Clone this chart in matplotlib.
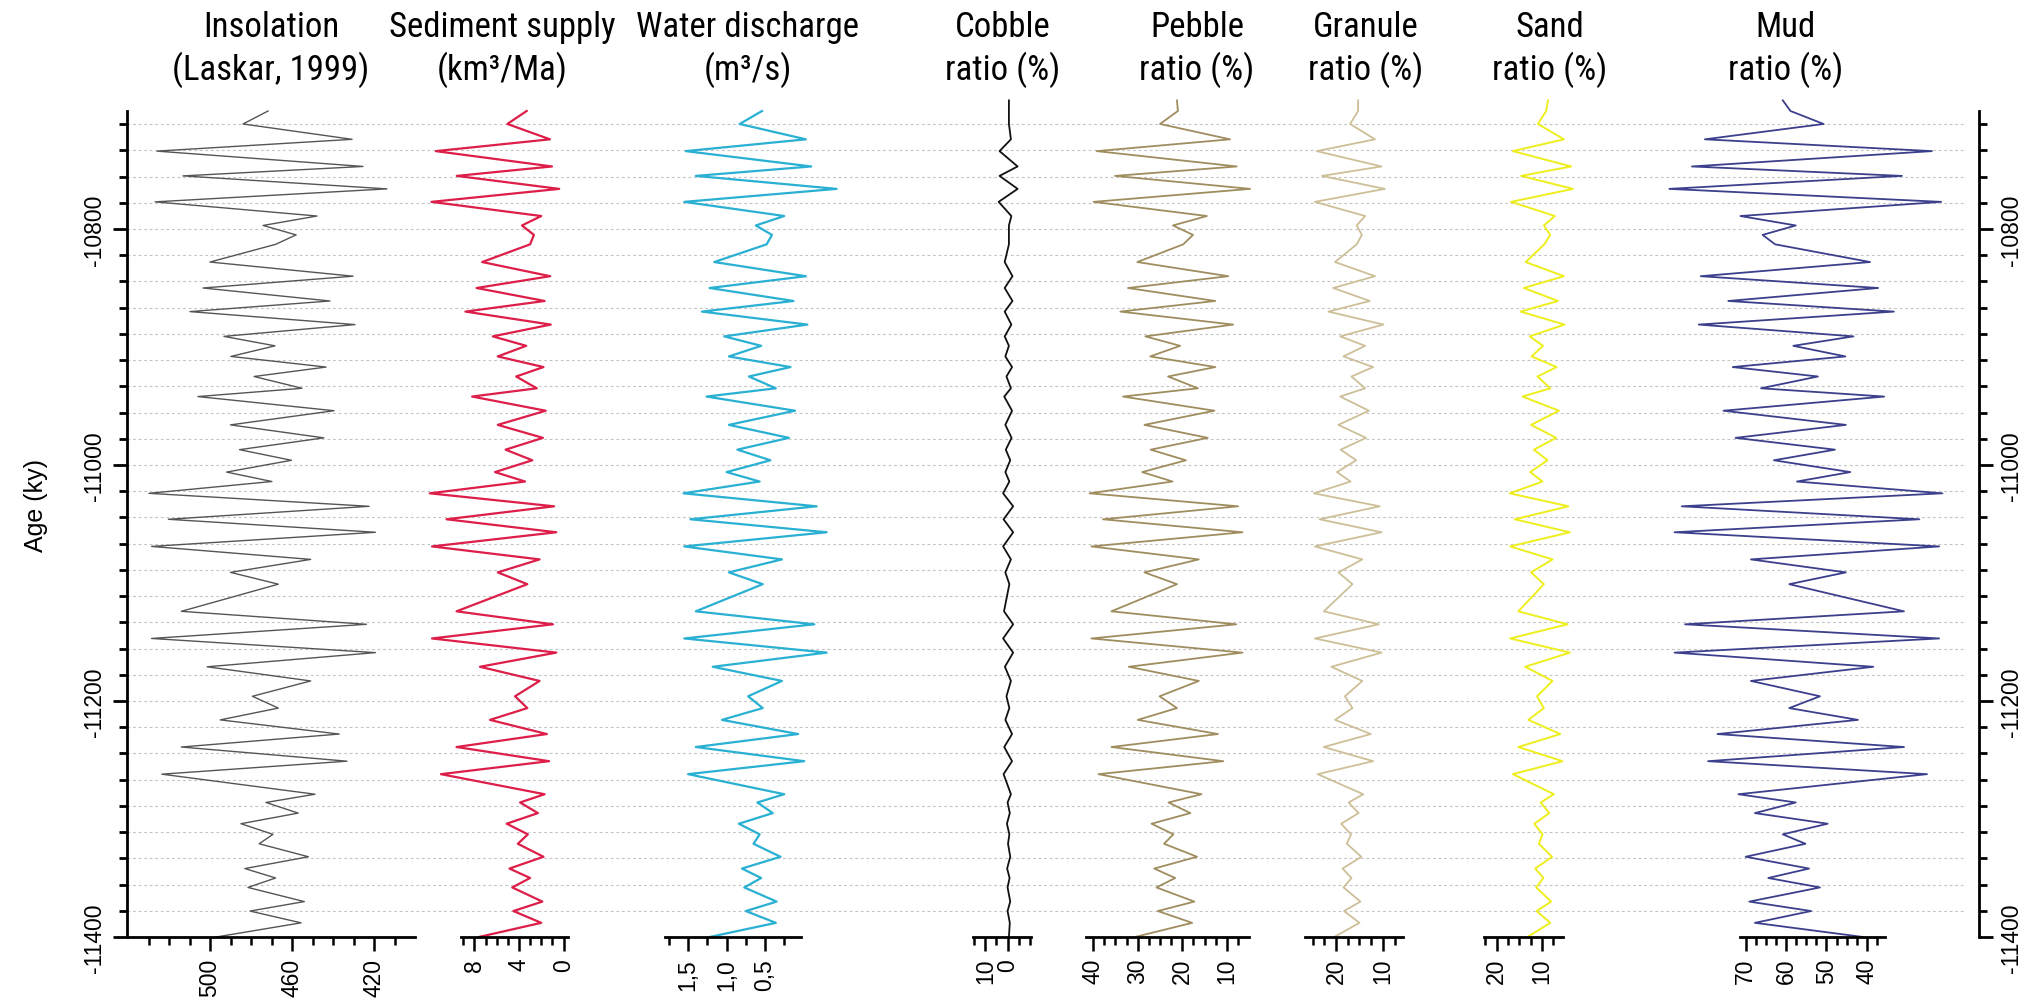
import numpy as np
import matplotlib
matplotlib.use("Agg")
import matplotlib.pyplot as plt
from matplotlib import font_manager
from matplotlib.ticker import FixedLocator, FixedFormatter

plt.rcParams['font.family'] = ['Liberation Sans', 'DejaVu Sans']
plt.rcParams['axes.unicode_minus'] = False
_names = {f.name for f in font_manager.fontManager.ttflist}
TITLE_FONT, TITLE_SIZE = ['Liberation Sans', 'DejaVu Sans'], 22
for _cand in ('Liberation Sans Narrow', 'Roboto Condensed', 'Arial Narrow',
              'Nimbus Sans Narrow'):
    if _cand in _names:
        TITLE_FONT, TITLE_SIZE = [_cand, 'Liberation Sans', 'DejaVu Sans'], 25
        break

nan = float('nan')
# ---------------- data ----------------
ages = [-10691, -10700, -10711, -10724, -10734, -10747, -10755, -10766, -10777, -10789,
        -10797, -10805, -10813, -10828, -10840, -10850, -10861, -10870, -10881, -10891,
        -10899, -10908, -10917, -10925, -10935, -10942, -10954, -10966, -10977, -10987,
        -10996, -11006, -11014, -11024, -11035, -11046, -11057, -11069, -11080, -11091,
        -11101, -11124, -11135, -11147, -11159, -11171, -11183, -11196, -11206, -11216,
        -11228, -11239, -11251, -11262, -11279, -11286, -11295, -11304, -11313, -11321,
        -11332, -11342, -11350, -11358, -11370, -11378, -11388, -11400]

insolation = [nan, 471.7, 483.9, 430.7, 525.9, 425.4, 513.2, 413.7, 526.8, 447.8,
              474.1, 458.0, 468.0, 500.0, 430.2, 503.4, 441.5, 509.8, 429.3, 493.2,
              468.3, 489.8, 443.4, 478.5, 455.1, 505.9, 439.5, 490.0, 444.5, 485.6,
              460.3, 491.9, 469.8, 529.8, 422.4, 520.3, 419.3, 528.5, 450.9, 490.0,
              466.7, 514.0, 423.7, 528.5, 419.3, 501.4, 450.9, 479.3, 466.7, 495.0,
              437.0, 514.0, 433.2, 523.5, 448.8, 472.7, 457.0, 484.9, 469.3, 476.0,
              452.0, 483.0, 468.0, 481.5, 454.0, 480.5, 455.6, 497.0]

sediment = [nan, 3.31, 5.04, 1.22, 11.46, 1.04, 9.58, 0.39, 11.85, 2.0,
            3.73, 2.66, 3.0, 7.3, 1.2, 7.8, 1.7, 8.8, 1.15, 6.35,
            3.35, 5.9, 1.8, 4.25, 2.4, 8.2, 1.6, 5.9, 1.85, 5.2,
            2.8, 6.15, 3.45, 12.0, 0.85, 10.5, 0.65, 11.8, 2.15, 5.9,
            3.25, 9.6, 0.95, 11.8, 0.65, 7.5, 2.15, 4.35, 3.25, 6.6,
            1.5, 9.6, 1.3, 11.0, 1.7, 3.9, 2.3, 5.1, 3.2, 4.1,
            1.8, 4.85, 3.0, 4.6, 1.9, 4.5, 2.0, 7.6]

water = [nan, 0.54, 0.83, -0.03, 1.53, -0.10, 1.40, -0.43, 1.55, 0.25,
         0.62, 0.41, 0.48, 1.16, -0.03, 1.22, 0.13, 1.32, -0.05, 1.03,
         0.55, 0.97, 0.17, 0.71, 0.36, 1.26, 0.11, 0.97, 0.19, 0.86,
         0.43, 1.00, 0.57, 1.56, -0.17, 1.47, -0.30, 1.55, 0.28, 0.97,
         0.53, 1.40, -0.14, 1.55, -0.30, 1.18, 0.28, 0.72, 0.53, 1.06,
         0.07, 1.40, -0.01, 1.50, 0.25, 0.60, 0.40, 0.84, 0.57, 0.65,
         0.30, 0.80, 0.55, 0.77, 0.35, 0.75, 0.36, 1.22]

cobble = [-0.6, -0.6, -0.6, -1.5, 3.6, -4.5, 3.6, -4.5, 4.0, -1.7,
          -0.6, -0.6, -0.6, 1.3, -2.2, 1.3, -2.2, 1.3, -1.7, 1.3,
          -0.6, 1.0, -2.0, 0.5, -1.5, 1.5, -2.0, 1.0, -1.8, 0.8,
          -1.2, 1.0, -0.8, 2.0, -2.5, 1.8, -2.5, 2.0, -1.5, 1.0,
          -0.8, 1.6, -2.5, 2.0, -2.5, 1.2, -1.5, 0.5, -0.8, 1.0,
          -2.0, 1.5, -2.0, 1.8, -1.5, 0.0, -1.0, 0.3, -0.8, -0.2,
          -1.2, 0.2, -0.9, 0.0, -1.2, 0.0, -1.0, -0.6]

pebble = [21.2, 21.0, 25.0, 9.3, 39.2, 7.8, 35.1, 4.8, 39.9, 14.5,
          22.1, 17.6, 19.8, 30.1, 9.7, 32.2, 12.6, 33.9, 8.6, 28.3,
          20.5, 27.2, 12.6, 23.2, 16.5, 33.3, 12.8, 28.5, 14.3, 27.1,
          19.2, 29.0, 22.2, 40.8, 7.5, 37.8, 6.5, 40.4, 16.3, 28.5,
          21.2, 35.9, 7.9, 40.4, 6.5, 32.0, 16.3, 25.1, 21.2, 30.0,
          12.0, 35.9, 10.8, 38.8, 15.7, 23.1, 18.2, 26.9, 22.0, 24.1,
          16.7, 26.3, 21.6, 25.8, 17.3, 25.5, 17.8, 30.6]

granule = [15.3, 15.3, 17.0, 11.7, 24.1, 10.3, 23.0, 9.6, 24.5, 13.8,
           15.6, 14.5, 15.6, 20.2, 11.7, 20.6, 12.8, 21.6, 9.9, 19.1,
           13.8, 18.4, 12.1, 16.7, 13.8, 19.1, 13.0, 19.5, 13.6, 19.0,
           15.7, 19.8, 16.9, 24.7, 10.7, 23.5, 10.3, 24.5, 14.4, 19.5,
           16.5, 22.6, 10.9, 24.5, 10.3, 21.0, 14.4, 18.1, 16.5, 20.2,
           12.6, 22.6, 12.1, 23.9, 14.2, 17.3, 15.2, 18.9, 16.8, 17.7,
           14.6, 18.6, 16.7, 18.4, 14.8, 18.3, 15.0, 20.4]

sand = [8.7, 9.1, 10.9, 5.2, 16.4, 3.6, 14.6, 3.2, 16.8, 7.2,
        9.6, 8.2, 9.5, 13.6, 5.2, 14.0, 6.5, 14.7, 5.1, 12.7,
        9.8, 12.3, 6.8, 11.0, 8.2, 14.3, 6.3, 12.4, 6.9, 11.8,
        8.8, 12.6, 9.9, 17.1, 4.2, 16.0, 3.9, 17.0, 7.7, 12.4,
        9.6, 15.2, 4.4, 17.0, 3.9, 13.7, 7.7, 11.1, 9.6, 13.0,
        6.0, 15.2, 5.5, 16.4, 7.4, 10.3, 8.4, 11.7, 9.9, 10.7,
        7.8, 11.5, 9.7, 11.3, 8.0, 11.2, 8.2, 13.2]

mud = [60.8, 58.9, 50.7, 80.1, 23.9, 83.3, 31.3, 88.9, 21.6, 71.3,
       57.6, 65.8, 62.7, 39.2, 81.1, 37.2, 74.3, 33.3, 81.6, 43.3,
       58.2, 45.3, 73.2, 52.1, 66.2, 35.7, 75.5, 45.2, 72.5, 47.9,
       63.0, 44.1, 57.3, 21.3, 85.8, 27.0, 87.6, 22.1, 68.7, 45.2,
       59.2, 30.8, 85.0, 22.1, 87.6, 38.4, 68.7, 51.6, 59.2, 42.2,
       77.0, 30.8, 79.3, 25.1, 71.8, 57.6, 67.7, 49.7, 60.8, 55.2,
       70.0, 54.3, 64.4, 51.6, 69.1, 53.8, 67.7, 40.9]

titles = [("Insolation", "(Laskar, 1999)"), ("Sediment supply", "(km³/Ma)"),
          ("Water discharge", "(m³/s)"), ("Cobble", "ratio (%)"),
          ("Pebble", "ratio (%)"), ("Granule", "ratio (%)"),
          ("Sand", "ratio (%)"), ("Mud", "ratio (%)")]

age_major = [-11400, -11200, -11000, -10800]

# ---------------- layout (pixels of the 2030x1004 canvas) ----------------
W, H = 2030, 1004
Y0, Y1 = 112, 938
fig = plt.figure(figsize=(W / 100, H / 100), dpi=100)


def box(x0, x1):
    return [x0 / W, 1 - Y1 / H, (x1 - x0) / W, (Y1 - Y0) / H]


ax0 = fig.add_axes(box(127, 1979))
ax0.set_ylim(-11400, -10700)
ax0.set_xlim(0, 1)
ax0.set_xticks([])
ax0.spines['top'].set_visible(False)
ax0.spines['bottom'].set_visible(False)
for s in ('left', 'right'):
    ax0.spines[s].set_linewidth(2.0)
minor_age = [-10800 + 200 / 9 * k for k in range(-27, 5) if k % 9 != 0]
ax0.yaxis.set_major_locator(FixedLocator(age_major))
ax0.yaxis.set_minor_locator(FixedLocator(minor_age))
ax0.tick_params(axis='y', which='both', left=True, right=True, labelleft=True,
                labelright=True, direction='out', width=2.0, labelsize=16.5,
                labelrotation=90)
ax0.tick_params(axis='y', which='major', length=10, pad=5)
ax0.tick_params(axis='y', which='minor', length=5.5)
for t in ax0.yaxis.get_major_ticks():
    t.label1.set_va('center')
    t.label2.set_va('center')
for a in minor_age + age_major:
    ax0.axhline(a, xmin=0, xmax=0.992, linestyle=(0, (2.5, 2.5)),
                color='#c4c4c4', linewidth=0.8, zorder=0)

fig.text(36 / W, 1 - 505 / H, "Age (ky)", rotation=90, ha='center',
         va='center', fontsize=18)

panels = [
    # values, colour, lw, x0, x1, xlim, minor ticks, major ticks, labels, title x
    (insolation, '#555555', 1.0, 127, 415, (540.5, 400.0),
     list(range(410, 531, 10)), [500, 460, 420], ['500', '460', '420'], 271),
    (sediment, '#dc1e48', 1.6, 461, 568, (9.2, -0.4),
     list(range(0, 10)), [8, 4, 0], ['8', '4', '0'], 502),
    (water, '#29b0d2', 1.6, 665, 801, (1.8, 0.033),
     [0.25, 0.75, 1.25, 1.75], [1.5, 1.0, 0.5], ['1,5', '1,0', '0,5'], 748),
    (cobble, '#111111', 1.3, 973, 1031, (15.5, -10.5),
     [15, 5, -5, -10], [10, 0], ['10', '0'], 1003),
    (pebble, '#a08d5f', 1.3, 1086, 1249, (41.6, 5.05),
     list(np.arange(7.5, 41, 2.5)), [40, 30, 20, 10], ['40', '30', '20', '10'], 1197),
    (granule, '#cdbf98', 1.3, 1305, 1403, (26.6, 5.74),
     list(np.arange(7.5, 26, 2.5)), [20, 10], ['20', '10'], 1366),
    (sand, '#eeee1e', 1.4, 1484, 1563, (22.75, 5.4),
     list(np.arange(7.5, 23, 2.5)), [20, 10], ['20', '10'], 1550),
    (mud, '#3b3f8c', 1.3, 1740, 1885, (71.4, 35.5),
     list(np.arange(37.5, 71, 2.5)), [70, 60, 50, 40], ['70', '60', '50', '40'], 1786),
]

for (vals, col, lw, x0, x1, xlim, mnr, mjr, labs, tx), (t1, t2) in zip(panels, titles):
    ax = fig.add_axes(box(x0, x1))
    ax.patch.set_visible(False)
    ax.set_xlim(*xlim)
    ax.set_ylim(-11400, -10700)
    for s in ('top', 'left', 'right'):
        ax.spines[s].set_visible(False)
    ax.spines['bottom'].set_linewidth(2.0)
    ax.set_yticks([])
    mnr = [m for m in mnr if all(abs(m - j) > 1e-6 for j in mjr)]
    ax.xaxis.set_major_locator(FixedLocator(mjr))
    ax.xaxis.set_major_formatter(FixedFormatter(labs))
    ax.xaxis.set_minor_locator(FixedLocator(mnr))
    ax.tick_params(axis='x', which='both', direction='out', width=1.8,
                   labelsize=16.5, labelrotation=90, pad=5)
    ax.tick_params(axis='x', which='major', length=10)
    ax.tick_params(axis='x', which='minor', length=6)
    ax.plot(vals, ages, color=col, lw=lw, clip_on=False, solid_joinstyle='round')
    fig.text(tx / W, 1 - 37 / H, t1, ha='center', va='baseline',
             fontsize=TITLE_SIZE, family=TITLE_FONT)
    fig.text(tx / W, 1 - 80 / H, t2, ha='center', va='baseline',
             fontsize=TITLE_SIZE, family=TITLE_FONT)

fig.savefig("out.png", dpi=100)
